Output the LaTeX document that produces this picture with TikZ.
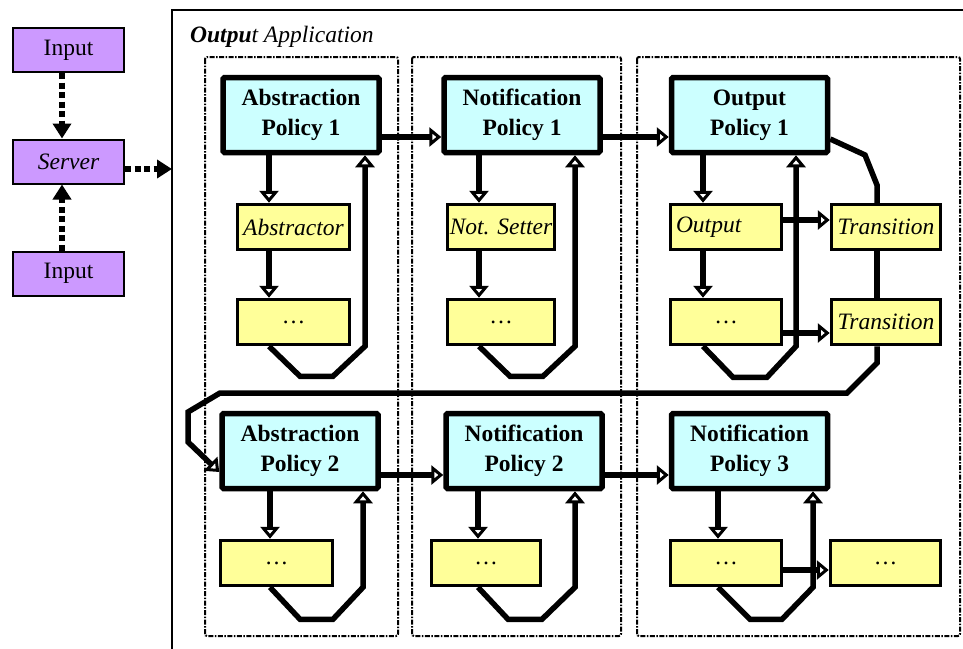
\documentclass[tikz,border=0pt]{standalone}
\usepackage{fontspec}
\setmainfont{Liberation Serif}
\usetikzlibrary{arrows.meta,calc}

\definecolor{lilac}{HTML}{CC99FF}
\definecolor{policy}{HTML}{CCFFFF}
\definecolor{worker}{HTML}{FFFF99}

\begin{document}
\begin{tikzpicture}[x=1pt,y=-1pt,
  font=\fontsize{23.5}{30}\selectfont,
  src/.style={draw, line width=2pt, fill=lilac, minimum width=111pt, minimum height=44pt, inner sep=0pt},
  pol/.style={draw, line width=5.5pt, rounded corners=1.5pt, fill=policy,
    minimum width=156pt, minimum height=75pt, inner sep=0pt, align=center,
    font=\fontsize{23.5}{30}\selectfont\bfseries},
  wrk/.style={draw, line width=3.5pt, fill=worker, minimum width=112pt, minimum height=45pt,
    inner sep=0pt, font=\fontsize{23.5}{30}\selectfont\itshape},
  ln/.style={line width=5.5pt},
  arr/.style={line width=5.5pt, -{Triangle[open, length=12pt, width=19pt, line width=3.5pt]}},
  dotarr/.style={line width=6.5pt, dash pattern=on 6pt off 3.5pt, -{Triangle[length=15pt, width=18pt]}},
  lane/.style={line width=2pt, dash pattern=on 5pt off 1.5pt on 1.5pt off 1.5pt, rounded corners=2pt},
]
\useasboundingbox (0,0) rectangle (963,648);
\clip (0,0) rectangle (963,648);

% application frame and its three lanes
\draw[line width=2.5pt] (172,660) -- (172,10) -- (975,10);
\node[anchor=base west, inner sep=0pt] (title) at (190,42) {\itshape\bfseries Outpu\mdseries t Application};
\draw[lane] (205,57) rectangle (398,636);
\draw[lane] (412,57) rectangle (621,636);
\draw[lane] (637,57) rectangle (960,636);

% sources
\node[src] (in1) at (68.5,50) {Input};
\node[src] (srv) at (68.5,161.5) {\itshape Server};
\node[src] (in2) at (68.5,273.5) {Input};
\coordinate (xin) at (62,0);
\coordinate (ysrv) at (0,169);
\coordinate (fr) at (172,169);

\draw[dotarr] (in1.south -| xin) -- (srv.north -| xin);
\draw[dotarr] (in2.north -| xin) -- (srv.south -| xin);
\draw[dotarr] (srv.east |- ysrv) -- (fr);

% policies
\node[pol] (ap1) at (301,115) {Abstraction\\Policy 1};
\node[pol] (np1) at (522,115) {Notification\\Policy 1};
\node[pol] (op1) at (749.5,115) {Output\\Policy 1};
\node[pol] (ap2) at (300,451) {Abstraction\\Policy 2};
\node[pol] (np2) at (524,451) {Notification\\Policy 2};
\node[pol] (np3) at (749.5,451) {Notification\\Policy 3};

% workers
\node[wrk] (abs) at (293.5,227) {Abstractor};
\node[wrk] (d1) at (293.5,322) {\upshape …};
\node[wrk, minimum width=107pt] (ns) at (501,227) {Not. Setter};
\node[wrk, minimum width=107pt] (d2) at (501,322) {\upshape …};
\node[wrk, minimum width=111pt, text width=100pt, inner xsep=5pt, align=left] (out) at (726,227) {Output};
\node[wrk, minimum width=111pt] (d3) at (726,322) {\upshape …};
\node[wrk, minimum width=109pt] (tr1) at (886,227) {Transition};
\node[wrk, minimum width=109pt] (tr2) at (886,322) {Transition};
\node[wrk] (d4) at (276.5,563) {\upshape …};
\node[wrk, minimum width=109pt] (d5) at (486,563) {\upshape …};
\node[wrk, minimum width=111pt] (d6) at (726,563) {\upshape …};
\node[wrk, minimum width=110pt] (d7) at (885.5,563) {\upshape …};

% guide lines for the connectors
\coordinate (yh1) at (0,137);
\coordinate (yh2) at (0,475);
\coordinate (xd1) at (269,0);  \coordinate (xu1) at (365,0);
\coordinate (xd2) at (479,0);  \coordinate (xu2) at (575,0);
\coordinate (xd3) at (703,0);  \coordinate (xu3) at (796,0);
\coordinate (xd4) at (270,0);  \coordinate (xu4) at (363,0);
\coordinate (xd5) at (478,0);  \coordinate (xu5) at (575,0);
\coordinate (xd6) at (718,0);  \coordinate (xu6) at (813,0);
\coordinate (xr) at (877,0);

% row 1
\draw[arr] (ap1.east |- yh1) -- (np1.west |- yh1);
\draw[arr] (np1.east |- yh1) -- (op1.west |- yh1);

\draw[arr] (ap1.south -| xd1) -- (abs.north -| xd1);
\draw[arr] (abs.south -| xd1) -- (d1.north -| xd1);
\draw[arr] (d1.south -| xd1) -- ++(31,30) -- ++(33,0) -- (xu1 |- d1.south) -- (ap1.south -| xu1);

\draw[arr] (np1.south -| xd2) -- (ns.north -| xd2);
\draw[arr] (ns.south -| xd2) -- (d2.north -| xd2);
\draw[arr] (d2.south -| xd2) -- ++(31,30) -- ++(33,0) -- (xu2 |- d2.south) -- (np1.south -| xu2);

\draw[arr] (op1.south -| xd3) -- (out.north -| xd3);
\draw[arr] (out.south -| xd3) -- (d3.north -| xd3);
\draw[arr] (d3.south -| xd3) -- ++(30,31) -- ++(34,0) -- (xu3 |- d3.south) -- (op1.south -| xu3);
\draw[arr] (out.east |- 0,220) -- (tr1.west |- 0,220);
\draw[arr] (d3.east |- 0,333) -- (tr2.west |- 0,333);

\draw[ln] (op1.east |- 0,139) -- (865,155) -- (877,185) -- (tr1.north -| xr);
\draw[ln] (tr1.south -| xr) -- (tr2.north -| xr);
\draw[arr] (tr2.south -| xr) -- (877,363) -- (847,393) -- (220,393) -- (188,412) -- (188,442) -- (ap2.west |- 0,472);

% row 2
\draw[arr] (ap2.east |- yh2) -- (np2.west |- yh2);
\draw[arr] (np2.east |- yh2) -- (np3.west |- yh2);

\draw[arr] (ap2.south -| xd4) -- (d4.north -| xd4);
\draw[arr] (d4.south -| xd4) -- ++(30,32) -- ++(33,0) -- (xu4 |- d4.south) -- (ap2.south -| xu4);

\draw[arr] (np2.south -| xd5) -- (d5.north -| xd5);
\draw[arr] (d5.south -| xd5) -- ++(30,32) -- ++(34,0) -- (xu5 |- d5.south) -- (np2.south -| xu5);

\draw[arr] (np3.south -| xd6) -- (d6.north -| xd6);
\draw[arr] (d6.south -| xd6) -- ++(32,32) -- ++(32,0) -- (xu6 |- d6.south) -- (np3.south -| xu6);
\draw[arr] (d6.east |- 0,570) -- (d7.west |- 0,570);
\end{tikzpicture}
\end{document}
